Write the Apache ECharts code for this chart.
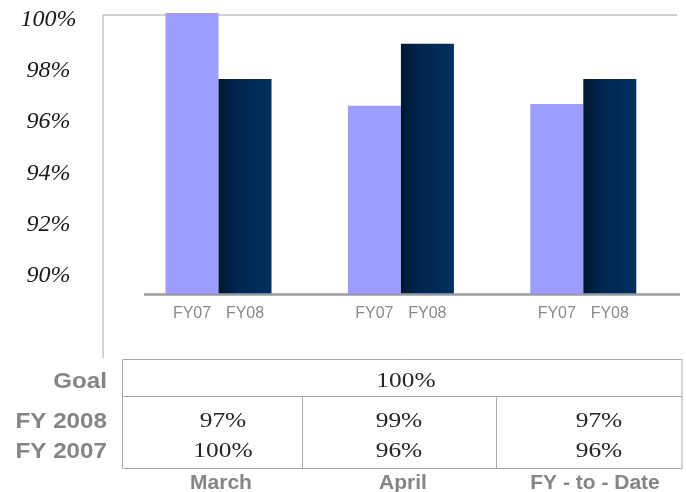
<!DOCTYPE html>
<html>
<head>
<meta charset="utf-8">
<script src="https://cdn.jsdelivr.net/npm/echarts@6/dist/echarts.min.js"></script>
<style>
  html, body { margin: 0; padding: 0; background: #fff; }
  #chart { width: 686px; height: 492px; }
</style>
</head>
<body>
<div id="chart"></div>
<script>
// On-time rate by period, fiscal 2007 vs fiscal 2008
const categories = ['March', 'April', 'FY - to - Date'];
const seriesNames = ['FY07', 'FY08'];
const fy07 = [100, 96.37, 96.44];
const fy08 = [97.42, 98.8, 97.42];
const goal = 100;
const yTickLabels = [90, 92, 94, 96, 98, 100];
const rowLabels = ['Goal', 'FY 2008', 'FY 2007'];

const chart = echarts.init(document.getElementById('chart'), null, { renderer: 'canvas' });

const gray = '#858585';
const lineGray = '#a8a8a8';

// Layout of the summary table under the plot
const tableLeft = 122.5, tableRight = 682, tableTop = 359.5, tableMid = 396.5, tableBottom = 468.5;
const colDividers = [302.5, 496.5];
const colCenters = [223, 399, 599];
const rowY = [381.5, 421.5, 451.5];
const catLabelX = [221, 403, 595];

const pct = v => Math.round(v) + '%';

const graphics = [];
// plot frame: top rule, left rule, baseline
graphics.push({ type: 'line', z: 0, shape: { x1: 103, y1: 15, x2: 677, y2: 15 }, style: { stroke: '#c2c2c2', lineWidth: 1.5 } });
graphics.push({ type: 'line', z: 0, shape: { x1: 103, y1: 15, x2: 103, y2: 358 }, style: { stroke: lineGray, lineWidth: 1 } });
graphics.push({ type: 'line', z: 10, shape: { x1: 144, y1: 294.5, x2: 680, y2: 294.5 }, style: { stroke: '#9c9c9c', lineWidth: 2.5 } });

// table grid
graphics.push({ type: 'rect', z: 0, shape: { x: tableLeft, y: tableTop, width: tableRight - tableLeft, height: tableBottom - tableTop }, style: { fill: 'none', stroke: lineGray, lineWidth: 1 } });
graphics.push({ type: 'line', z: 0, shape: { x1: tableLeft, y1: tableMid, x2: tableRight, y2: tableMid }, style: { stroke: lineGray, lineWidth: 1 } });
colDividers.forEach(x => {
  graphics.push({ type: 'line', z: 0, shape: { x1: x, y1: tableMid, x2: x, y2: tableBottom }, style: { stroke: lineGray, lineWidth: 1 } });
});

// row headings
rowLabels.forEach((t, i) => {
  graphics.push({
    type: 'text', z: 5, x: 107, y: rowY[i], scaleX: 1.1,
    style: { x: 0, y: 0, text: t, fill: gray, font: 'bold 22px "Liberation Sans", Arial, sans-serif', textAlign: 'right', textVerticalAlign: 'middle' }
  });
});

const valueText = (t, x, y) => ({
  type: 'text', z: 5, x: x, y: y, scaleX: 1.27,
  style: { x: 0, y: 0, text: t, fill: '#262626', font: '20px "Liberation Serif", "Times New Roman", serif', textAlign: 'center', textVerticalAlign: 'middle' }
});

// goal spans all columns
graphics.push(valueText(pct(goal), 406, rowY[0]));
categories.forEach((c, i) => {
  graphics.push(valueText(pct(fy08[i]), colCenters[i], rowY[1]));
  graphics.push(valueText(pct(fy07[i]), colCenters[i], rowY[2]));
  graphics.push({
    type: 'text', z: 5, x: catLabelX[i], y: 483,
    style: { x: 0, y: 0, text: c, fill: gray, font: 'bold 21px "Liberation Sans", Arial, sans-serif', textAlign: 'center', textVerticalAlign: 'middle' }
  });
});

const fy08Fill = new echarts.graphic.LinearGradient(0, 0, 1, 0, [
  { offset: 0, color: '#001832' },
  { offset: 0.35, color: '#00264f' },
  { offset: 1, color: '#00305f' }
]);

const barLabel = {
  show: true,
  position: 'bottom',
  distance: 12,
  formatter: p => p.seriesName,
  color: '#8a8a8a',
  fontSize: 16,
  fontFamily: '"Liberation Sans", Arial, sans-serif'
};

chart.setOption({
  animation: false,
  backgroundColor: '#ffffff',
  grid: { left: 127.3, right: 11.5, top: 13, bottom: 198, containLabel: false },
  xAxis: {
    type: 'category',
    data: categories,
    axisLine: { show: false },
    axisTick: { show: false },
    axisLabel: { show: false },
    splitLine: { show: false }
  },
  yAxis: {
    type: 'value',
    min: 89,
    max: 100,
    interval: 1,
    startValue: 89,
    axisLine: { show: false },
    axisTick: { show: false },
    splitLine: { show: false },
    axisLabel: {
      margin: 78.8,
      align: 'center',
      verticalAlign: 'top',
      lineHeight: 14,
      color: '#1a1a1a',
      fontSize: 24,
      fontStyle: 'italic',
      fontFamily: '"Liberation Serif", "Times New Roman", serif',
      formatter: v => yTickLabels.indexOf(v) >= 0 ? v + '%' : ''
    }
  },
  series: [
    {
      name: seriesNames[0],
      type: 'bar',
      data: fy07,
      barWidth: 53,
      barGap: '0%',
      z: 2,
      itemStyle: { color: '#9d9dff' },
      label: barLabel
    },
    {
      name: seriesNames[1],
      type: 'bar',
      data: fy08,
      barWidth: 53,
      z: 2,
      itemStyle: { color: fy08Fill },
      label: barLabel
    }
  ],
  graphic: graphics
});
</script>
</body>
</html>
